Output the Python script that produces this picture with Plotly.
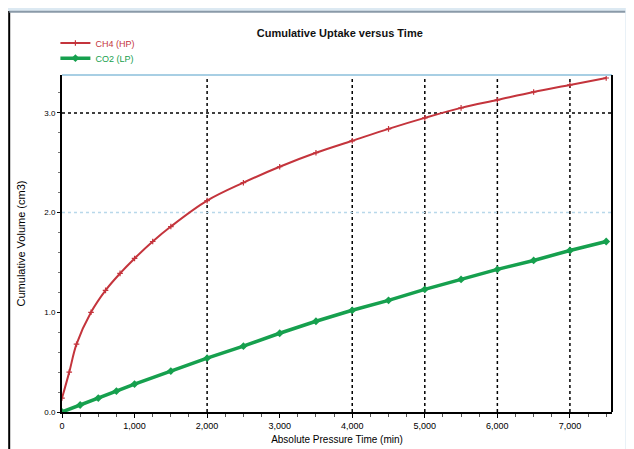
import plotly.graph_objects as go

# ---- data ----
red_t = [0, 100, 200, 400, 600, 800, 1000, 1250, 1500, 2000, 2500, 3000, 3500,
         4000, 4500, 5000, 5500, 6000, 6500, 7000, 7500]
red_v = [0.14, 0.40, 0.68, 1.00, 1.22, 1.39, 1.54, 1.71, 1.86, 2.12, 2.30, 2.46,
         2.60, 2.72, 2.84, 2.95, 3.05, 3.13, 3.21, 3.28, 3.35]
green_t = [0, 250, 500, 750, 1000, 1500, 2000, 2500, 3000, 3500, 4000, 4500,
           5000, 5500, 6000, 6500, 7000, 7500]
green_v = [0.0, 0.07, 0.14, 0.21, 0.28, 0.41, 0.54, 0.66, 0.79, 0.91, 1.02, 1.12,
           1.23, 1.33, 1.43, 1.52, 1.62, 1.71]
x_ticks = [0, 1000, 2000, 3000, 4000, 5000, 6000, 7000]
x_tick_labels = ["0", "1,000", "2,000", "3,000", "4,000", "5,000", "6,000", "7,000"]
y_ticks = [0, 1, 2, 3]
y_tick_labels = ["0.0", "1.0", "2.0", "3.0"]
grid_x = [2000, 4000, 5000, 6000, 7000]
x_range = [0, 7580]
y_range = [0, 3.38]

RED = "#c4343c"
GREEN = "#16a04e"
FONT = "Liberation Sans"

fig = go.Figure()
fig.add_trace(go.Scatter(
    x=red_t, y=red_v, mode="lines+markers", legend="legend",
    name="<span style='color:%s'>CH4 (HP)</span>" % RED,
    line=dict(color=RED, width=2, shape="spline"),
    marker=dict(symbol="cross-thin", size=4, color=RED, line=dict(color=RED, width=1.2)),
))
fig.add_trace(go.Scatter(
    x=green_t, y=green_v, mode="lines+markers", legend="legend2",
    name="<span style='color:%s'>CO2 (LP)</span>" % GREEN,
    line=dict(color=GREEN, width=3.5),
    marker=dict(symbol="diamond", size=6, color=GREEN),
))

shapes = []
for gx in grid_x:
    shapes.append(dict(type="line", xref="x", yref="paper", x0=gx, x1=gx, y0=0, y1=1,
                       line=dict(color="black", width=1.5, dash="dot"), layer="below"))
shapes.append(dict(type="line", xref="paper", yref="y", x0=0, x1=1, y0=3, y1=3,
                   line=dict(color="black", width=1.5, dash="dot"), layer="below"))
shapes.append(dict(type="line", xref="paper", yref="y", x0=0, x1=1, y0=2, y1=2,
                   line=dict(color="#b8d8ea", width=1.5, dash="dot"), layer="below"))
shapes.append(dict(type="line", xref="paper", yref="paper", x0=0, x1=1, y0=1, y1=1,
                   line=dict(color="#a8cfe4", width=2)))
# window-like frame
shapes.append(dict(type="rect", xref="paper", yref="paper", x0=-0.1, x1=1.05,
                   y0=1.19, y1=1.2, fillcolor="#dce9f2", line=dict(width=0)))
shapes.append(dict(type="line", xref="paper", yref="paper", x0=-0.096, x1=-0.096,
                   y0=1.19, y1=-0.12, line=dict(color="black", width=2)))
shapes.append(dict(type="line", xref="paper", yref="paper", x0=-0.096, x1=1.05,
                   y0=1.188, y1=1.188, line=dict(color="#8a9aa8", width=2)))
shapes.append(dict(type="rect", xref="paper", yref="paper", x0=1.024, x1=1.05,
                   y0=-0.12, y1=1.2, fillcolor="#e4eef5", line=dict(width=0)))
shapes.append(dict(type="line", xref="paper", yref="paper", x0=1, x1=1, y0=0, y1=1,
                   line=dict(color="black", width=2)))

leg_common = dict(xanchor="left", yanchor="middle", bgcolor="rgba(0,0,0,0)",
                  font=dict(size=9), itemwidth=30, borderwidth=0)

fig.update_layout(
    width=626, height=441,
    margin=dict(l=54, r=22, t=67, b=37),
    paper_bgcolor="white", plot_bgcolor="white",
    font=dict(family=FONT, size=9, color="black"),
    title=dict(text="<b>Cumulative Uptake versus Time</b>", x=0.53, xanchor="center",
               y=0.942, yanchor="middle", font=dict(size=11, color="#111")),
    showlegend=True,
    legend=dict(x=-0.012, y=1.095, **leg_common),
    legend2=dict(x=-0.012, y=1.05, **leg_common),
    shapes=shapes,
    xaxis=dict(range=x_range, tickvals=x_ticks, ticktext=x_tick_labels, automargin=False,
               showgrid=False, zeroline=False, showline=True, linecolor="black",
               linewidth=2, mirror=False, ticks="outside", ticklen=4, tickcolor="black",
               tickfont=dict(size=9),
               minor=dict(ticks="outside", ticklen=3, dtick=250, tickcolor="#555"),
               title=dict(text="Absolute Pressure Time (min)", font=dict(size=10), standoff=6)),
    yaxis=dict(range=y_range, tickvals=y_ticks, ticktext=y_tick_labels, automargin=False,
               showgrid=False, zeroline=False, showline=True, linecolor="black",
               linewidth=2, mirror=False, ticks="outside", ticklen=3, tickcolor="black",
               tickfont=dict(size=8),
               minor=dict(ticks="outside", ticklen=2, dtick=0.2, tickcolor="#777"),
               title=dict(text="Cumulative Volume (cm3)", font=dict(size=11), standoff=16)),
)

fig.write_html("out.html")
